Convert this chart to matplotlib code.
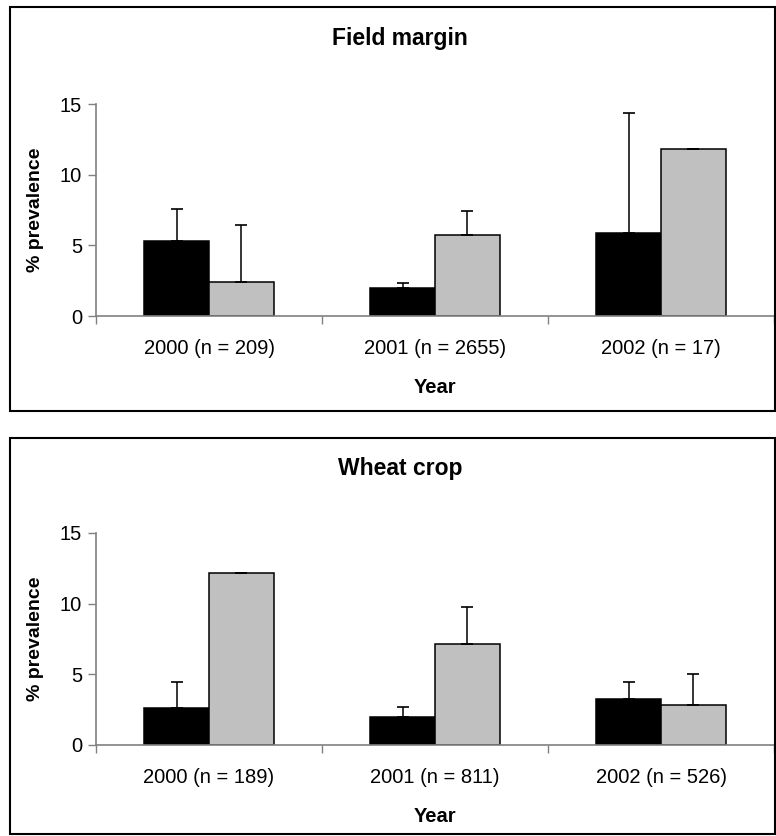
import matplotlib
matplotlib.use('Agg')
import matplotlib.pyplot as plt
from matplotlib.patches import Rectangle
import numpy as np

plt.rcParams['font.family'] = ['Liberation Sans', 'DejaVu Sans']

# field margin panel
fm_labels = ['2000 (n = 209)', '2001 (n = 2655)', '2002 (n = 17)']
fm_black = [5.31, 2.0, 5.9]
fm_black_err = [2.27, 0.31, 8.44]
fm_grey = [2.43, 5.74, 11.81]
fm_grey_err = [4.0, 1.72, 0.0]

# wheat crop panel
wc_labels = ['2000 (n = 189)', '2001 (n = 811)', '2002 (n = 526)']
wc_black = [2.63, 1.97, 3.22]
wc_black_err = [1.83, 0.75, 1.22]
wc_grey = [12.16, 7.16, 2.82]
wc_grey_err = [0.0, 2.63, 2.18]

W, H = 776, 836
fig = plt.figure(figsize=(W / 100, H / 100), dpi=100)


def px(x0, y0, x1, y1):
    # pixel box (top-left origin) -> figure fraction rect
    return [x0 / W, 1 - y1 / H, (x1 - x0) / W, (y1 - y0) / H]


def panel(rect, title, title_y, labels, black, black_err, grey, grey_err):
    ax = fig.add_axes(rect)
    x = np.arange(len(labels))
    bw = 1 / 3.5
    for off, vals, errs, col in [(-bw / 2, black, black_err, 'black'),
                                 (bw / 2, grey, grey_err, '#c0c0c0')]:
        ax.bar(x + off, vals, bw, color=col, edgecolor='black', linewidth=1.1)
        ax.errorbar(x + off, vals, yerr=[np.zeros(len(vals)), errs], fmt='none',
                    ecolor='black', elinewidth=1.1, capsize=4.5, capthick=1.2)
    ax.set_xlim(-0.5, len(labels) - 0.5)
    ax.set_ylim(0, 15)
    ax.set_yticks([0, 5, 10, 15])
    ax.set_xticks(np.append(x - 0.5, len(labels) - 0.5))
    ax.set_xticklabels([''] * (len(labels) + 1))
    for xi, lab in zip(x, labels):
        ax.text(xi, -0.151, lab, transform=ax.get_xaxis_transform(),
                ha='center', va='center', fontsize=14.5)
    ax.tick_params(axis='both', direction='out', length=6, width=1,
                   color='#808080', labelsize=14.5)
    ax.tick_params(axis='y', pad=4)
    for s in ['top', 'right']:
        ax.spines[s].set_visible(False)
    for s in ['left', 'bottom']:
        ax.spines[s].set_color('#808080')
        ax.spines[s].set_linewidth(1.2)
    ax.set_ylabel('% prevalence', fontsize=14, fontweight='bold')
    ax.yaxis.set_label_coords(-0.077, 0.5)
    ax.set_xlabel('Year', fontsize=14.5, fontweight='bold')
    ax.xaxis.set_label_coords(0.5, -0.292)
    fig.text(400 / W, 1 - title_y / H, title, ha='center', va='center',
             fontsize=16.5, fontweight='bold')
    return ax


panel(px(96, 104, 774, 316), 'Field margin', 38,
      fm_labels, fm_black, fm_black_err, fm_grey, fm_grey_err)
panel(px(96, 533, 774, 745), 'Wheat crop', 468,
      wc_labels, wc_black, wc_black_err, wc_grey, wc_grey_err)

for y0, y1 in [(7, 411), (438, 834)]:
    fig.add_artist(Rectangle((10 / W, 1 - y1 / H), 765 / W, (y1 - y0) / H,
                             transform=fig.transFigure, fill=False,
                             edgecolor='black', linewidth=1.5))

fig.savefig('out.png', dpi=100)
